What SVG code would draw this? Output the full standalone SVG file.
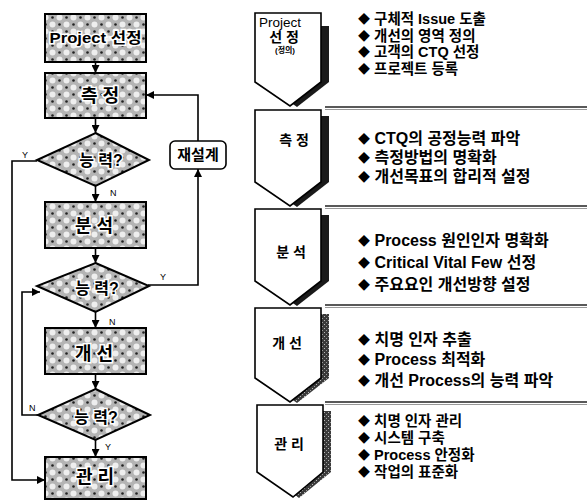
<svg xmlns="http://www.w3.org/2000/svg" width="587" height="500" viewBox="0 0 587 500">
<style>
.node{stroke:#000;stroke-width:2;fill:url(#dither)}
.nt{font-family:"Liberation Sans","Noto Sans CJK KR",sans-serif;font-weight:bold;fill:#000;stroke:#fff;stroke-width:3;paint-order:stroke;text-anchor:middle}
.lbl{font-family:"Liberation Sans",sans-serif;font-size:9px;fill:#000}
.cn{fill:none;stroke:#000;stroke-width:1.6}
.chev{fill:#fff;stroke:#000;stroke-width:1.6}
.sh{fill:#1a1a1a}
.sh2{fill:url(#stip)}
.ct{font-family:"Liberation Sans","Noto Sans CJK KR",sans-serif;font-weight:bold;fill:#000;text-anchor:middle}
.ctn{font-family:"Liberation Sans",Arial,sans-serif;font-weight:normal;fill:#000;text-anchor:middle}
.bt{font-family:"Liberation Sans","Noto Sans CJK KR",sans-serif;font-weight:bold;font-size:16px;fill:#000}
.bs{font-size:14.5px}
.d{font-family:"Noto Sans CJK KR",sans-serif;font-size:12px}
.sep1{stroke:#222;stroke-width:1.6}
.sep2{stroke:#999;stroke-width:1}
</style>
<defs>
<pattern id="dither" width="14" height="14" patternUnits="userSpaceOnUse">
<rect width="14" height="14" fill="#b4b4b4"/>
<circle cx="3.5" cy="3.5" r="3" fill="#eeeeee"/>
<circle cx="10.5" cy="10.5" r="3" fill="#eeeeee"/>
<circle cx="10.5" cy="3.5" r="1.3" fill="#222"/>
<circle cx="3.5" cy="10.5" r="1.3" fill="#222"/>
</pattern>
<pattern id="stip" width="4" height="4" patternUnits="userSpaceOnUse">
<rect width="4" height="4" fill="#3a3a3a"/>
<rect x="0" y="0" width="1" height="1" fill="#bbb"/>
<rect x="2" y="2" width="1" height="1" fill="#999"/>
</pattern>
<marker id="ah" viewBox="0 0 10 10" refX="10" refY="5" markerWidth="9" markerHeight="8" markerUnits="userSpaceOnUse" orient="auto">
<path d="M0,0 L10,5 L0,10 z" fill="#000"/>
</marker>
</defs>

<g id="connectors">
<line class="cn" x1="95.5" y1="62" x2="95.5" y2="73" marker-end="url(#ah)"/>
<line class="cn" x1="95.5" y1="118" x2="95.5" y2="133" marker-end="url(#ah)"/>
<line class="cn" x1="95.5" y1="186" x2="95.5" y2="202" marker-end="url(#ah)"/>
<line class="cn" x1="95.5" y1="248" x2="95.5" y2="263" marker-end="url(#ah)"/>
<line class="cn" x1="95.5" y1="312" x2="95.5" y2="328" marker-end="url(#ah)"/>
<line class="cn" x1="95.5" y1="374" x2="95.5" y2="389" marker-end="url(#ah)"/>
<line class="cn" x1="95.5" y1="440" x2="95.5" y2="457" marker-end="url(#ah)"/>
<polyline class="cn" points="37,161 12,161 12,480 45,480" marker-end="url(#ah)"/>
<polyline class="cn" points="38,415 22,415 22,292 40,292" marker-end="url(#ah)"/>
<polyline class="cn" points="148,285 198,285 198,169" marker-end="url(#ah)"/>
<polyline class="cn" points="198,141 198,95 146,95" marker-end="url(#ah)"/>
<text class="lbl" x="22" y="158">Y</text>
<text class="lbl" x="110" y="196">N</text>
<text class="lbl" x="160" y="280">Y</text>
<text class="lbl" x="109" y="325">N</text>
<text class="lbl" x="29" y="411">N</text>
<text class="lbl" x="105" y="450">Y</text>
</g>

<g id="n-project">
<rect class="node" x="45" y="14" width="101" height="48"/>
<text class="nt" x="95.5" y="43" font-size="15" textLength="92" lengthAdjust="spacingAndGlyphs">Project 선정</text>
</g>
<g id="n-measure">
<rect class="node" x="45" y="73" width="101" height="45"/>
<text class="nt" x="100" y="102" font-size="18">측 정</text>
</g>
<g id="n-d1">
<polygon class="node" points="95.5,133 149,160 95.5,186 37,160"/>
<text class="nt" x="101" y="166" font-size="16">능 력?</text>
</g>
<g id="n-analyze">
<rect class="node" x="45" y="202" width="101" height="46"/>
<text class="nt" x="94" y="232" font-size="18">분 석</text>
</g>
<g id="n-d2">
<polygon class="node" points="95.5,263 149,286 95.5,312 37,286"/>
<text class="nt" x="97" y="294" font-size="16">능 력?</text>
</g>
<g id="n-improve">
<rect class="node" x="45" y="328" width="101" height="46"/>
<text class="nt" x="94" y="360" font-size="18">개 선</text>
</g>
<g id="n-d3">
<polygon class="node" points="95.5,389 150,415 95.5,440 38,415"/>
<text class="nt" x="96" y="423" font-size="16">능 력?</text>
</g>
<g id="n-control">
<rect class="node" x="45" y="457" width="101" height="42"/>
<text class="nt" x="95" y="483" font-size="18">관 리</text>
</g>
<g id="n-redesign">
<rect x="170" y="141" width="56" height="28" rx="5" fill="#fff" stroke="#000" stroke-width="1.6"/>
<text class="nt" x="198" y="160" font-size="15">재설계</text>
</g>

<g id="separators">
<line class="sep1" x1="325" y1="107" x2="587" y2="107"/>
<line class="sep2" x1="325" y1="109.5" x2="587" y2="109.5"/>
<line class="sep1" x1="325" y1="206" x2="587" y2="206"/>
<line class="sep2" x1="325" y1="208.5" x2="587" y2="208.5"/>
<line class="sep1" x1="325" y1="305" x2="587" y2="305"/>
<line class="sep2" x1="325" y1="307.5" x2="587" y2="307.5"/>
<line class="sep1" x1="325" y1="402" x2="587" y2="402"/>
<line class="sep2" x1="325" y1="404.5" x2="587" y2="404.5"/>
</g>

<g id="c-define">
<polygon class="sh" points="262,26 329,26 329,82 297,107 262,82"/>
<polygon class="chev" points="255,13 321,13 321,82 290,106 255,82"/>
<text class="ctn" x="280" y="27" font-size="13.5">Project</text>
<text class="ct" x="284" y="42" font-size="14">선 정</text>
<text class="ct" x="285" y="53" font-size="8">(정의)</text>
<text class="bt bs" x="358" y="24"><tspan class="d">◆</tspan> 구체적 Issue 도출</text>
<text class="bt bs" x="358" y="40.5"><tspan class="d">◆</tspan> 개선의 영역 정의</text>
<text class="bt bs" x="358" y="57"><tspan class="d">◆</tspan> 고객의 CTQ 선정</text>
<text class="bt bs" x="358" y="73.5"><tspan class="d">◆</tspan> 프로젝트 등록</text>
</g>
<g id="c-measure">
<polygon class="sh" points="262,116 329,116 329,182 297,207 262,182"/>
<polygon class="chev" points="255,110 321,110 321,182 290,206 255,182"/>
<text class="ct" x="294" y="145" font-size="14">측 정</text>
<text class="bt" x="358" y="144"><tspan class="d">◆</tspan> CTQ의 공정능력 파악</text>
<text class="bt" x="358" y="163"><tspan class="d">◆</tspan> 측정방법의 명확화</text>
<text class="bt" x="358" y="182"><tspan class="d">◆</tspan> 개선목표의 합리적 설정</text>
</g>
<g id="c-analyze">
<polygon class="sh" points="262,215 329,215 329,281 297,306 262,281"/>
<polygon class="chev" points="255,209 321,209 321,281 290,305 255,281"/>
<text class="ct" x="291" y="257" font-size="14">분 석</text>
<text class="bt" x="358" y="246"><tspan class="d">◆</tspan> Process 원인인자 명확화</text>
<text class="bt" x="358" y="268"><tspan class="d">◆</tspan> Critical Vital Few 선정</text>
<text class="bt" x="358" y="290"><tspan class="d">◆</tspan> 주요요인 개선방향 설정</text>
</g>
<g id="c-improve">
<polygon class="sh2" points="262,314 329,314 329,378 297,403 262,378"/>
<polygon class="chev" points="255,308 321,308 321,378 290,402 255,378"/>
<text class="ct" x="287" y="348" font-size="14">개 선</text>
<text class="bt" x="358" y="345"><tspan class="d">◆</tspan> 치명 인자 추출</text>
<text class="bt" x="358" y="365"><tspan class="d">◆</tspan> Process 최적화</text>
<text class="bt" x="358" y="386"><tspan class="d">◆</tspan> 개선 Process의 능력 파악</text>
</g>
<g id="c-control">
<polygon class="sh2" points="264,411 331,411 331,472 299,498 264,472"/>
<polygon class="chev" points="257,405 323,405 323,472 293,497 257,472"/>
<text class="ct" x="289" y="449" font-size="14">관 리</text>
<text class="bt bs" x="358" y="426"><tspan class="d">◆</tspan> 치명 인자 관리</text>
<text class="bt bs" x="358" y="443"><tspan class="d">◆</tspan> 시스템 구축</text>
<text class="bt bs" x="358" y="460"><tspan class="d">◆</tspan> Process 안정화</text>
<text class="bt bs" x="358" y="477"><tspan class="d">◆</tspan> 작업의 표준화</text>
</g>
</svg>
